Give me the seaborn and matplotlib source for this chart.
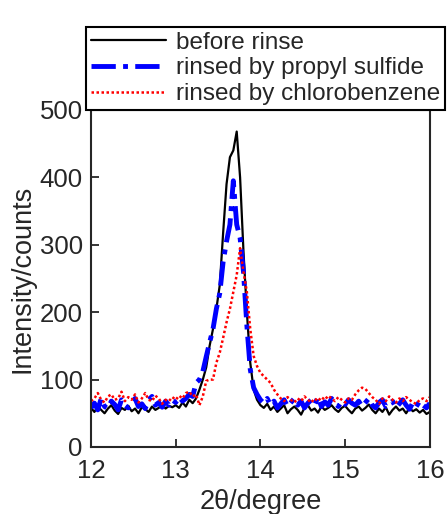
import numpy as np
import pandas as pd
import seaborn as sns
import matplotlib.pyplot as plt

# --- dados ---
two_theta = np.round(np.arange(12.0, 16.0001, 0.04), 2)

before_rinse = [58, 52, 60, 55, 50, 57, 62, 54, 49, 58,
                55, 61, 53, 57, 50, 59, 56, 52, 60, 55,
                58, 63, 57, 61, 59,
                62, 58, 66, 60, 70, 65,
                72, 85, 100, 118, 150, 175, 205, 240, 318, 390,
                430, 440, 468, 400, 290, 200, 125, 85, 70, 62,
                58, 64, 55, 60, 52, 57, 62, 50, 56, 60,
                55, 48, 58, 62, 54, 57, 51, 60, 55, 58,
                62, 56, 52, 58, 61, 55, 50, 57, 60, 54,
                58, 63, 55, 50, 57, 52, 59, 48, 55, 60,
                54, 57, 50, 58, 53, 56, 51, 55, 49, 52]

propyl_sulfide = [58, 65, 55, 72, 60, 57, 68, 63, 55, 70,
                  62, 58, 66, 72, 60, 64, 57, 70, 75, 62,
                  66, 59, 68, 62, 70,
                  66, 74, 68, 72, 78, 75,
                  95, 100, 112, 134, 155, 175, 205, 228, 275, 305,
                  330, 395, 330, 310, 260, 180, 115, 88, 78, 70,
                  65, 72, 62, 68, 58, 64, 70, 60, 66, 72,
                  62, 68, 58, 65, 70, 63, 74, 60, 67, 62,
                  72, 65, 60, 68, 63, 70, 65, 62, 68, 60,
                  66, 72, 62, 58, 66, 70, 60, 64, 68, 58,
                  64, 70, 62, 56, 66, 60, 68, 62, 58, 65]

chlorobenzene = [68, 72, 80, 70, 66, 75, 78, 70, 72, 82,
                 68, 74, 70, 78, 66, 72, 80, 70, 68, 76,
                 72, 64, 70, 68, 74,
                 70, 76, 72, 80, 82, 75,
                 78, 62, 75, 98, 100, 100, 125, 140, 162, 185,
                 205, 230, 255, 295, 260, 230, 175, 135, 120, 110,
                 105, 100, 95, 85, 78, 72, 68, 74, 70, 66,
                 72, 68, 75, 70, 66, 72, 68, 74, 70, 76,
                 72, 68, 74, 70, 66, 72, 70, 78, 84, 88,
                 86, 80, 74, 70, 64, 72, 68, 75, 70, 66,
                 72, 68, 74, 70, 66, 64, 70, 72, 68, 74]

labels = ['before rinse', 'rinsed by propyl sulfide', 'rinsed by chlorobenzene']

df = pd.DataFrame({'x': two_theta,
                   labels[0]: before_rinse,
                   labels[1]: propyl_sulfide,
                   labels[2]: chlorobenzene})

sns.set_style('ticks')
plt.rcParams['font.family'] = ['Liberation Sans', 'DejaVu Sans']
plt.rcParams['xtick.direction'] = 'in'
plt.rcParams['ytick.direction'] = 'in'

fig = plt.figure(figsize=(4.47, 5.14), dpi=100)
ax = fig.add_axes([0.2036, 0.1304, 0.758, 0.6556])

sns.lineplot(data=df, x='x', y=labels[0], ax=ax, color='black', lw=1.6, label=labels[0])
sns.lineplot(data=df, x='x', y=labels[1], ax=ax, color='#0000ff', lw=3.5,
             linestyle=(0, (5, 1.5, 1, 1.5)), label=labels[1])
sns.lineplot(data=df, x='x', y=labels[2], ax=ax, color='#ff0000', lw=1.8,
             linestyle=(0, (1, 1)), label=labels[2])

ax.set_xlim(12, 16)
ax.set_ylim(0, 500)
ax.set_xticks([12, 13, 14, 15, 16])
ax.set_yticks([0, 100, 200, 300, 400, 500])
ax.tick_params(labelsize=18.5, length=6, width=1.3, pad=6)
ax.tick_params(axis='x', pad=9)
for s in ax.spines.values():
    s.set_linewidth(1.5)
ax.set_xlabel('2θ/degree', fontsize=19.5, labelpad=4)
ax.set_ylabel('Intensity/counts', fontsize=19.5, labelpad=3)

handles, labs = ax.get_legend_handles_labels()
ax.get_legend().remove()
leg = fig.legend(handles, labs, loc='lower left', mode='expand',
                 bbox_to_anchor=(0.1924, 0.786, 0.803, 0.183),
                 fontsize=17.5, handlelength=3.1, handletextpad=0.4,
                 labelspacing=0.15, borderaxespad=0, borderpad=0.2,
                 fancybox=False, framealpha=1, edgecolor='black')
leg.get_frame().set_linewidth(1.5)

fig.savefig('out.png', dpi=100)
